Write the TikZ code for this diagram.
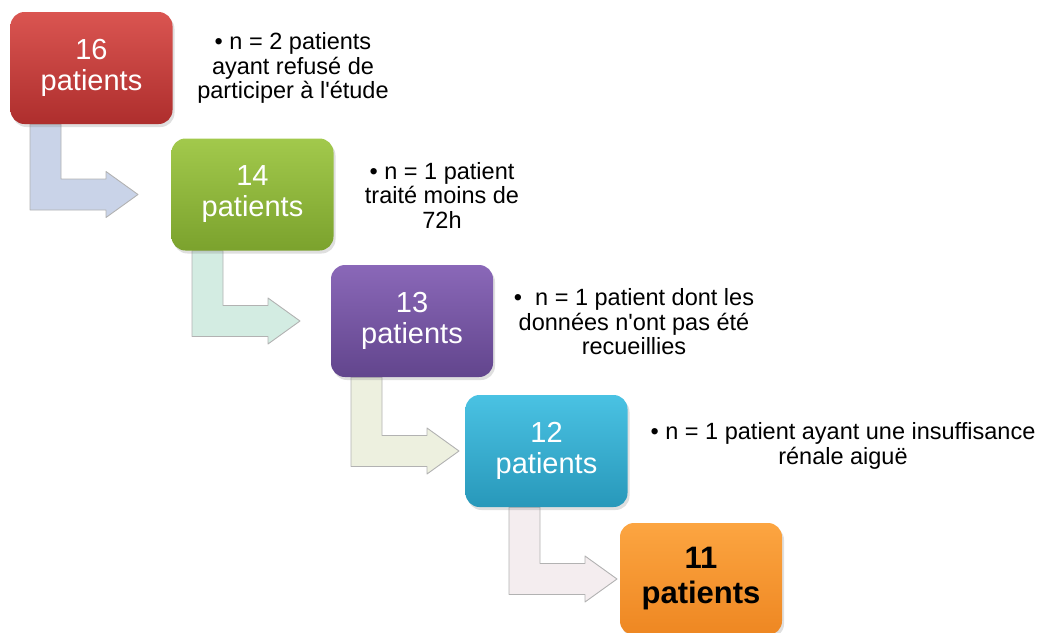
\documentclass[tikz,border=0pt]{standalone}
\usepackage{fontspec}
\setmainfont{Liberation Sans}[Ligatures=TeXOff]
\usetikzlibrary{calc, shadows, backgrounds}

\definecolor{redtop}{HTML}{DA5551}
\definecolor{redbot}{HTML}{AE2E2D}
\definecolor{greentop}{HTML}{A2C94C}
\definecolor{greenbot}{HTML}{7BA22D}
\definecolor{purpletop}{HTML}{8A68B8}
\definecolor{purplebot}{HTML}{62458D}
\definecolor{cyantop}{HTML}{4AC2E3}
\definecolor{cyanbot}{HTML}{2898BA}
\definecolor{orangetop}{HTML}{FCA541}
\definecolor{orangebot}{HTML}{EE8722}
\definecolor{arrowone}{HTML}{C9D3E8}
\definecolor{arrowtwo}{HTML}{D3ECE2}
\definecolor{arrowthree}{HTML}{EDF0DF}
\definecolor{arrowfour}{HTML}{F4EDEF}

% bent arrow from the bottom of #1 to the left of #2, shaft at x=#3
\newcommand{\bentarrow}[4]{%
  \fill[fill=#4, draw=gray!60, line width=0.9pt, line join=round]
    let \p1 = (#1.south), \p2 = (#2.west) in
    ({#3pt}, \y1) -- ({#3pt+31pt}, \y1) -- ({#3pt+31pt}, {\y2+15.5pt})
    -- ({#3pt+76pt}, {\y2+15.5pt}) -- ({#3pt+76pt}, {\y2+23pt})
    -- ({#3pt+108pt}, \y2) -- ({#3pt+76pt}, {\y2-23pt})
    -- ({#3pt+76pt}, {\y2-15.5pt}) -- ({#3pt}, {\y2-15.5pt}) -- cycle;}

\begin{document}
\begin{tikzpicture}[x=1pt, y=-1pt,
    box/.style={rounded corners=14pt, minimum width=162pt, minimum height=112pt,
      align=center, text=white, font=\fontsize{29}{31}\selectfont,
      drop shadow={shadow xshift=2pt, shadow yshift=-3pt, opacity=0.25}},
    note/.style={align=center, font=\fontsize{23.5}{24.5}\selectfont}]
    \useasboundingbox (0,0) rectangle (1041,632);

    \node[box, top color=redtop, bottom color=redbot]       at (91.5, 68)   (b16) {16\\patients};
    \node[box, top color=greentop, bottom color=greenbot]   at (252.5, 194.5) (b14) {14\\patients};
    \node[box, top color=purpletop, bottom color=purplebot] at (412, 321)   (b13) {13\\patients};
    \node[box, top color=cyantop, bottom color=cyanbot]     at (546.5, 451) (b12) {12\\patients};
    \node[box, top color=orangetop, bottom color=orangebot, text=black,
          font=\fontsize{31}{35}\selectfont\bfseries]         at (701, 579)   (b11) {11\\patients};

    \node[note] at (293, 68)  (n16) {• n = 2 patients\\ayant refusé de\\participer à l'étude};
    \node[note] at (442, 195) (n14) {• n = 1 patient\\traité moins de\\72h};
    \node[note] at (634, 322) (n13) {•\ \ n = 1 patient dont les\\données n'ont pas été\\recueillies};
    \node[note] at (843, 446) (n12) {• n = 1 patient ayant une insuffisance\\rénale aiguë};

    % arrows behind the boxes
    \begin{scope}[on background layer]
        \bentarrow{b16}{b14}{30}{arrowone}
        \bentarrow{b14}{b13}{192}{arrowtwo}
        \bentarrow{b13}{b12}{351}{arrowthree}
        \bentarrow{b12}{b11}{509}{arrowfour}
    \end{scope}
\end{tikzpicture}
\end{document}
